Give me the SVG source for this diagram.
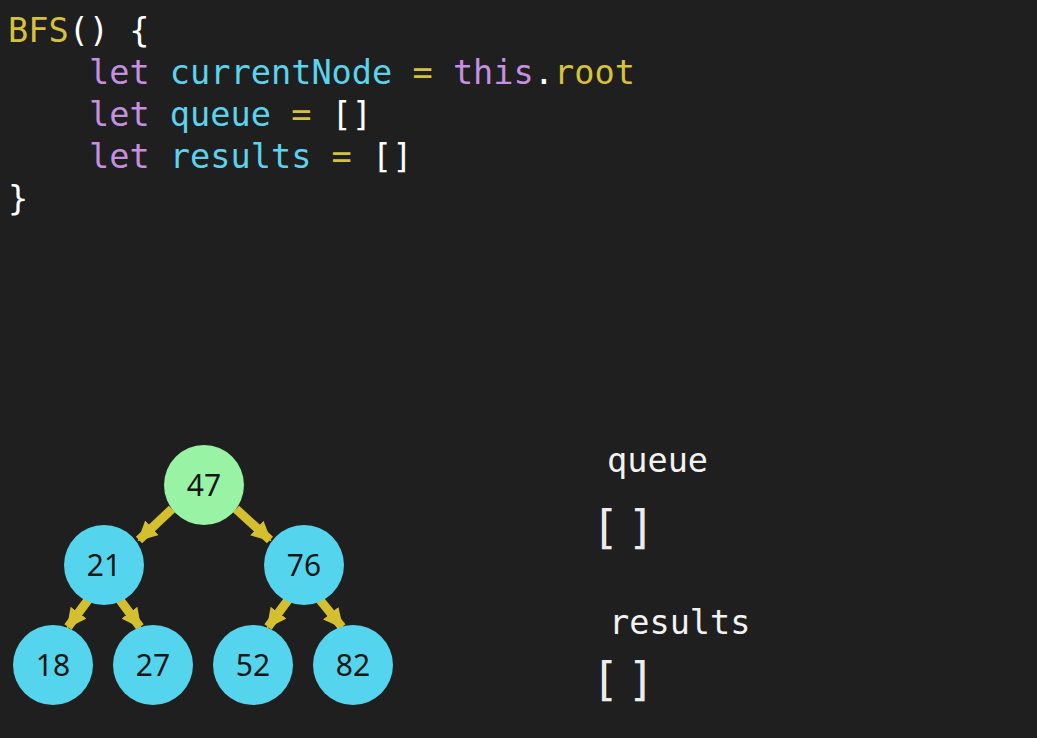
<svg xmlns="http://www.w3.org/2000/svg" width="1037" height="738" viewBox="0 0 1037 738">
<style>
.code{font-family:"DejaVu Sans Mono","Liberation Mono",monospace;font-size:33.6px}
.y{fill:#d6c23a}.p{fill:#c690e0}.c{fill:#5bd3ec}.w{fill:#ffffff}
.lbl{font-family:"DejaVu Sans Mono","Liberation Mono",monospace;font-size:33.6px;fill:#f2f2f2}
.br{font-family:"DejaVu Sans",sans-serif;font-size:46px;fill:#ececec}
.num{font-family:"Noto Sans","DejaVu Sans",sans-serif;font-size:30px;fill:#161616;text-anchor:middle}
.edge{stroke:#d4bf2e;stroke-width:9;fill:none}
</style>
<defs>
<marker id="ah" viewBox="0 0 10 10" refX="9" refY="5" markerWidth="2.2" markerHeight="2.6" orient="auto" markerUnits="strokeWidth">
<path d="M0,0 L10,5 L0,10 z" fill="#d4bf2e"/>
</marker>
</defs>
<rect width="1037" height="738" fill="#1f1f1f"/>
<g id="code" class="code">
<text x="8" y="42"><tspan class="y">BFS</tspan><tspan class="w">() {</tspan></text>
<text x="89" y="84"><tspan class="p">let</tspan><tspan class="c"> currentNode </tspan><tspan class="y">=</tspan><tspan class="p"> this</tspan><tspan class="w">.</tspan><tspan class="y">root</tspan></text>
<text x="89" y="126"><tspan class="p">let</tspan><tspan class="c"> queue </tspan><tspan class="y">=</tspan><tspan class="w"> []</tspan></text>
<text x="89" y="168"><tspan class="p">let</tspan><tspan class="c"> results </tspan><tspan class="y">=</tspan><tspan class="w"> []</tspan></text>
<text x="8" y="210" class="w">}</text>
</g>
<g id="connectors">
<line class="edge" x1="172" y1="509" x2="139" y2="540" marker-end="url(#ah)"/>
<line class="edge" x1="236" y1="509" x2="270" y2="540" marker-end="url(#ah)"/>
<line class="edge" x1="88" y1="600" x2="68" y2="627" marker-end="url(#ah)"/>
<line class="edge" x1="120" y1="600" x2="140" y2="627" marker-end="url(#ah)"/>
<line class="edge" x1="288" y1="600" x2="268" y2="627" marker-end="url(#ah)"/>
<line class="edge" x1="320" y1="600" x2="342" y2="627" marker-end="url(#ah)"/>
</g>
<g id="n47"><circle cx="204" cy="485" r="40" fill="#98f4a4"/><text class="num" x="204" y="496">47</text></g>
<g id="n21"><circle cx="104" cy="565" r="40" fill="#55d5ed"/><text class="num" x="104" y="576">21</text></g>
<g id="n76"><circle cx="304" cy="565" r="40" fill="#55d5ed"/><text class="num" x="304" y="576">76</text></g>
<g id="n18"><circle cx="53" cy="665" r="40" fill="#55d5ed"/><text class="num" x="53" y="676">18</text></g>
<g id="n27"><circle cx="153" cy="665" r="40" fill="#55d5ed"/><text class="num" x="153" y="676">27</text></g>
<g id="n52"><circle cx="253" cy="665" r="40" fill="#55d5ed"/><text class="num" x="253" y="676">52</text></g>
<g id="n82"><circle cx="353" cy="665" r="40" fill="#55d5ed"/><text class="num" x="353" y="676">82</text></g>
<g id="queue"><text class="lbl" x="607" y="472">queue</text><text class="br" x="598" y="543">[ ]</text></g>
<g id="results"><text class="lbl" x="609" y="634">results</text><text class="br" x="598" y="695">[ ]</text></g>
</svg>
